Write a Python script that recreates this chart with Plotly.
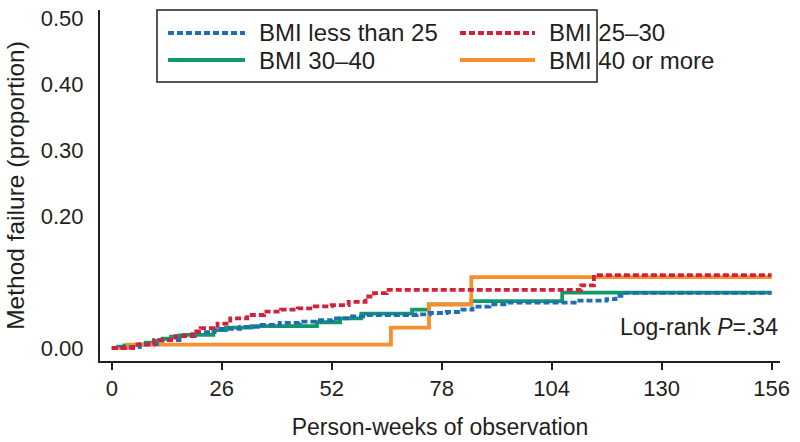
import plotly.graph_objects as go

# ---- data ----
series_names = ["BMI less than 25", "BMI 25\u201330", "BMI 30\u201340", "BMI 40 or more"]

weeks_lt25 = [0, 2, 6.6, 11.3, 16, 19.6, 24.3, 30.3, 34.5, 39.7, 44.4, 49.2, 52.2, 56.3, 60.3,
              72.1, 75.2, 79.2, 82.3, 85.3, 89.3, 93.4, 109.9, 117, 119.1, 120.5, 156]
fail_lt25 = [0, 0.0015, 0.006, 0.012, 0.018, 0.024, 0.029, 0.032, 0.035, 0.038, 0.040, 0.042, 0.045,
             0.048, 0.050, 0.051, 0.053, 0.0545, 0.058, 0.0626, 0.066, 0.0686, 0.0717, 0.074, 0.079,
             0.0835, 0.0835]

weeks_25_30 = [0, 5, 10, 15, 19, 21, 25, 28, 32, 36, 40, 44, 48, 52, 56, 60, 62, 65, 111, 114, 156]
fail_25_30 = [0, 0.005, 0.012, 0.018, 0.025, 0.030, 0.037, 0.045, 0.050, 0.055, 0.058, 0.060, 0.063,
              0.065, 0.070, 0.078, 0.083, 0.088, 0.095, 0.1105, 0.1105]

weeks_30_40 = [0, 1.5, 3, 6, 8, 10, 12, 14, 16, 17, 24, 27, 33, 48.5, 54, 59, 71, 75, 85, 106.5, 156]
fail_30_40 = [0, 0.002, 0.004, 0.005, 0.008, 0.011, 0.014, 0.017, 0.019, 0.020, 0.027, 0.031, 0.033,
              0.039, 0.045, 0.052, 0.058, 0.066, 0.071, 0.084, 0.084]

weeks_40 = [0, 3.8, 66, 75, 85, 156]
fail_40 = [0, 0.005, 0.031, 0.066, 0.1075, 0.1075]

y_tickvals = [0, 0.2, 0.3, 0.4, 0.5]
y_ticktext = ["0.00", "0.20", "0.30", "0.40", "0.50"]
x_tickvals = [0, 26, 52, 78, 104, 130, 156]

annotation_text = "Log-rank <i>P</i>=.34"

# ---- style ----
colors = ["#1f6db4", "#d3213a", "#12996b", "#f98f2c"]
dashes = ["6px,3px", "6px,3px", "solid", "solid"]
FONT = "Liberation Sans, Arial, sans-serif"
TXT = "#231f20"

fig = go.Figure()
data = [(weeks_lt25, fail_lt25), (weeks_25_30, fail_25_30), (weeks_30_40, fail_30_40), (weeks_40, fail_40)]
order = [2, 3, 0, 1]  # green, orange, blue, red
for i in order:
    xs, ys = data[i]
    fig.add_trace(go.Scatter(x=xs, y=ys, mode="lines", line_shape="hv", name=series_names[i],
                             line=dict(color=colors[i], width=3.8, dash=dashes[i]),
                             showlegend=False))

# custom legend (box, sample lines, labels) in paper coordinates
shapes = [dict(type="rect", xref="paper", yref="paper", x0=0.0838, x1=0.7309, y0=0.795, y1=1.0,
               line=dict(color=TXT, width=1.5), fillcolor="white", layer="above")]
annotations = []
leg_pos = [(0.100, 0.2132, 0.2309, 0.9345), (0.5294, 0.6397, 0.6574, 0.9345),
           (0.100, 0.2132, 0.2309, 0.8575), (0.5294, 0.6397, 0.6574, 0.8575)]
for i, (lx0, lx1, tx, ly) in enumerate(leg_pos):
    shapes.append(dict(type="line", xref="paper", yref="paper", x0=lx0, x1=lx1, y0=ly, y1=ly,
                       line=dict(color=colors[i], width=4,
                                 dash="6px,3px" if dashes[i] != "solid" else "solid"),
                       layer="above"))
    annotations.append(dict(xref="paper", yref="paper", x=tx, y=ly, text=series_names[i],
                            showarrow=False, xanchor="left", yanchor="middle",
                            font=dict(family=FONT, size=24, color=TXT)))
annotations.append(dict(xref="paper", yref="y", x=1.0, y=0.032, text=annotation_text, showarrow=False,
                        xanchor="right", yanchor="middle", font=dict(family=FONT, size=23, color=TXT)))

fig.update_layout(
    width=800, height=442,
    margin=dict(l=100, r=20, t=10, b=81, autoexpand=False),
    paper_bgcolor="white", plot_bgcolor="white",
    font=dict(family=FONT, size=23, color=TXT),
    shapes=shapes, annotations=annotations,
    showlegend=False,
)
fig.update_xaxes(range=[-2.8, 158], tickvals=x_tickvals, ticks="outside", ticklen=7, tickwidth=1.5,
                 tickcolor=TXT, showline=True, linecolor=TXT, linewidth=2, showgrid=False, zeroline=False,
                 automargin=False, ticklabeloverflow="allow",
                 tickfont=dict(family=FONT, size=22, color=TXT),
                 title=dict(text="Person-weeks of observation", standoff=18,
                            font=dict(family=FONT, size=23, color=TXT)))
fig.update_yaxes(range=[-0.0197, 0.512], tickvals=y_tickvals, ticktext=y_ticktext, ticks="",
                 ticklabelstandoff=10, automargin=False, ticklabeloverflow="allow",
                 showline=True, linecolor=TXT, linewidth=2, showgrid=False, zeroline=False,
                 tickfont=dict(family=FONT, size=22, color=TXT),
                 title=dict(text="Method failure (proportion)", standoff=9,
                            font=dict(family=FONT, size=24.5, color=TXT)))

# remove the default 8px page margin so the 800x442 figure fills the window exactly
fig.write_html("out.html", config={"displayModeBar": False},
               post_script="document.body.style.margin='0';")
